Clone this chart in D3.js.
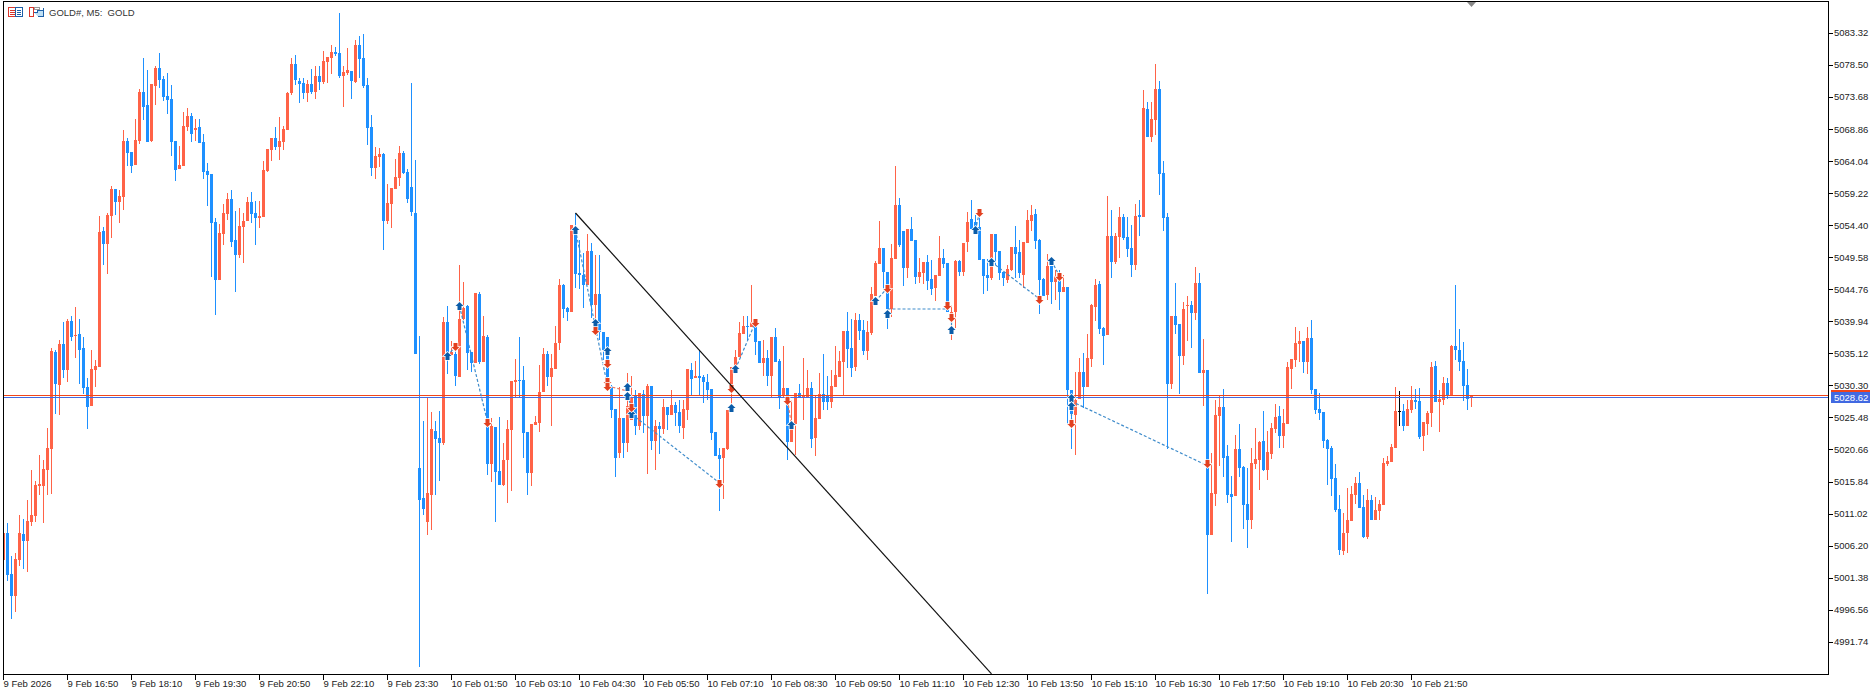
<!DOCTYPE html>
<html>
<head>
<meta charset="utf-8">
<title>GOLD#, M5</title>
<script src="https://cdn.jsdelivr.net/npm/d3@7"></script>
<style>
  html, body { margin: 0; padding: 0; background: #fff; overflow: hidden; }
  svg { display: block; }
  text { font-family: "Liberation Sans", Arial, sans-serif; font-size: 9.5px; fill: #222; }
</style>
</head>
<body>
<div id="chart"></div>
<script>
const opens = [
  5004.12,5008.18,5002.01,4998.70,5004.12,5008.03,5006.97,5009.83,5010.73,5015.24,
  5015.24,5017.65,5020.81,5035.40,5030.43,5036.60,5032.69,5040.06,5037.80,5038.10,
  5036.00,5030.13,5027.28,5032.69,5033.14,5053.59,5051.64,5055.84,5059.91,5057.95,
  5058.70,5067.12,5065.47,5063.52,5067.12,5074.50,5072.54,5067.12,5075.40,5078.10,
  5076.45,5073.89,5073.44,5067.12,5062.92,5063.33,5069.23,5070.89,5068.78,5069.23,
  5066.97,5062.61,5062.16,5054.95,5046.22,5053.14,5056.15,5058.40,5052.24,5049.98,
  5054.19,5055.10,5057.95,5056.30,5055.55,5055.70,5062.61,5065.77,5067.58,5066.22,
  5066.97,5068.78,5074.34,5078.71,5076.15,5075.85,5074.34,5075.70,5074.50,5076.90,
  5076.00,5079.01,5079.61,5080.51,5080.36,5076.90,5077.35,5077.65,5076.00,5081.56,
  5079.61,5075.55,5069.23,5063.07,5064.72,5065.17,5055.10,5057.65,5059.91,5061.56,
  5065.32,5062.46,5060.21,5056.30,5017.95,5013.44,5009.83,5013.89,5023.52,5022.46,
  5021.71,5039.91,5034.94,5035.09,5031.64,5040.36,5042.31,5035.40,5033.74,5044.12,
  5033.89,5037.65,5018.55,5024.12,5017.50,5015.39,5019.16,5023.67,5030.88,5031.19,
  5031.19,5023.37,5017.20,5024.42,5024.72,5029.38,5035.09,5031.64,5032.84,5036.75,
  5045.47,5042.01,5041.41,5053.74,5047.28,5046.98,5045.47,5050.58,5042.46,5044.12,
  5038.40,5037.65,5030.28,5026.83,5020.21,5025.47,5021.71,5025.17,5028.93,5024.27,
  5029.08,5025.77,5030.28,5022.01,5024.27,5023.82,5027.13,5025.92,5027.43,5026.37,
  5023.97,5026.67,5032.69,5031.49,5031.79,5031.64,5030.88,5029.83,5023.37,5019.91,
  5019.46,5020.81,5030.43,5032.39,5034.64,5038.10,5039.31,5039.16,5039.46,5037.05,
  5033.74,5034.49,5031.79,5037.65,5034.04,5028.78,5029.98,5021.86,5024.57,5029.23,
  5028.48,5028.63,5029.98,5022.46,5025.32,5029.08,5028.78,5027.88,5030.13,5031.64,
  5033.89,5038.55,5036.00,5033.14,5040.21,5038.70,5035.55,5038.25,5043.82,5048.63,
  5051.03,5047.43,5041.86,5049.38,5057.50,5053.59,5048.03,5053.89,5052.24,5046.68,
  5047.28,5048.93,5046.37,5045.02,5046.83,5049.53,5048.78,5040.81,5041.41,5049.08,
  5047.43,5051.94,5055.40,5054.95,5054.19,5049.38,5046.98,5046.53,5053.14,5050.58,
  5047.43,5046.22,5047.73,5051.18,5050.43,5046.98,5051.79,5055.10,5056.15,5052.24,
  5046.37,5043.97,5048.33,5045.92,5046.37,5044.42,5045.17,5029.68,5025.92,5028.33,
  5032.39,5030.13,5034.34,5042.16,5045.62,5039.01,5037.95,5052.84,5048.93,5052.69,
  5055.70,5052.69,5051.03,5048.48,5056.00,5055.70,5071.94,5067.73,5070.28,5074.95,
  5062.31,5055.70,5030.58,5040.81,5039.61,5034.79,5042.31,5042.46,5041.26,5045.77,
  5032.24,5032.69,5007.88,5014.04,5025.77,5027.13,5019.76,5014.04,5013.74,5020.81,
  5018.10,5012.54,5010.13,5018.55,5019.16,5022.01,5017.65,5020.06,5023.82,5025.77,
  5022.77,5024.57,5032.84,5034.19,5036.60,5037.05,5033.89,5037.50,5029.83,5026.83,
  5026.37,5022.16,5020.96,5016.45,5011.79,5005.47,5008.18,5009.98,5013.89,5015.70,
  5012.09,5007.58,5013.14,5010.13,5011.49,5012.39,5018.55,5018.85,5020.96,5026.52,
  5026.52,5024.27,5026.67,5028.18,5028.03,5022.77,5024.57,5026.22,5033.29,5027.88,
  5028.18,5030.73,5028.78,5036.30,5035.70,5034.04,5030.43,5028.63
];
const highs = [
  5008.18,5009.68,5004.72,5005.17,5010.88,5010.28,5013.14,5017.65,5016.00,5019.91,
  5019.16,5023.97,5036.00,5035.70,5037.20,5039.91,5040.36,5040.81,5042.16,5040.36,
  5037.65,5031.49,5035.70,5034.19,5055.84,5054.19,5056.30,5060.36,5059.91,5059.76,
  5068.78,5067.58,5065.47,5070.43,5074.95,5079.61,5077.80,5075.70,5078.40,5080.36,
  5076.90,5077.35,5075.55,5067.12,5066.37,5071.49,5072.09,5071.34,5070.43,5070.43,
  5068.18,5063.82,5062.16,5055.55,5054.64,5057.65,5059.31,5059.76,5056.60,5057.05,
  5056.30,5058.70,5059.46,5058.10,5058.10,5064.12,5065.92,5067.58,5069.23,5070.74,
  5069.38,5074.50,5079.61,5080.06,5076.60,5076.60,5076.30,5077.95,5078.40,5078.40,
  5080.66,5079.76,5081.56,5081.26,5086.37,5078.40,5081.11,5077.65,5082.31,5082.92,
  5083.22,5076.60,5071.04,5066.22,5066.07,5065.32,5060.66,5060.06,5064.42,5066.37,
  5065.62,5062.92,5075.85,5064.27,5037.80,5025.02,5028.48,5026.37,5025.02,5026.52,
  5040.66,5042.31,5037.05,5036.45,5048.48,5045.92,5042.46,5035.40,5044.27,5044.42,
  5040.81,5037.95,5025.47,5024.12,5025.62,5021.71,5025.17,5031.04,5034.34,5037.65,
  5033.29,5023.37,5024.57,5025.77,5033.44,5036.00,5035.55,5035.09,5039.31,5046.37,
  5045.62,5042.16,5054.49,5056.30,5052.24,5050.28,5053.14,5051.79,5049.98,5049.98,
  5038.40,5037.65,5030.43,5026.83,5030.13,5025.47,5032.24,5031.79,5029.68,5029.23,
  5029.68,5030.58,5030.28,5025.17,5024.87,5028.33,5027.13,5029.68,5027.88,5028.18,
  5028.18,5032.84,5033.74,5034.04,5035.70,5031.94,5032.09,5029.83,5023.37,5020.96,
  5020.96,5026.67,5033.14,5035.70,5039.91,5040.81,5040.81,5045.47,5039.46,5037.05,
  5037.20,5035.70,5037.65,5039.01,5034.34,5036.30,5029.98,5028.18,5029.23,5030.58,
  5034.49,5032.69,5030.88,5028.78,5032.24,5035.09,5031.79,5032.69,5036.30,5035.55,
  5038.55,5041.41,5040.36,5041.26,5041.11,5040.21,5040.06,5045.17,5049.08,5055.10,
  5051.03,5047.43,5051.64,5063.33,5058.55,5053.59,5053.89,5055.70,5052.24,5049.53,
  5048.93,5049.98,5049.23,5046.98,5052.84,5050.88,5048.78,5042.46,5049.23,5049.23,
  5051.79,5056.45,5058.25,5056.00,5056.00,5049.38,5049.38,5053.14,5053.14,5050.58,
  5047.43,5048.48,5051.18,5054.34,5052.24,5051.94,5056.75,5057.50,5056.90,5052.39,
  5046.53,5050.13,5048.33,5047.73,5047.73,5046.98,5045.17,5029.68,5032.39,5034.49,
  5035.25,5038.10,5042.61,5046.37,5046.07,5039.16,5058.85,5056.75,5053.29,5057.20,
  5056.15,5055.70,5054.49,5057.65,5058.25,5074.80,5072.99,5072.99,5078.71,5076.15,
  5064.12,5056.30,5040.81,5045.77,5039.61,5042.91,5043.82,5043.07,5048.18,5047.28,
  5037.35,5032.69,5020.21,5028.18,5028.93,5029.83,5021.41,5016.75,5022.92,5024.57,
  5018.25,5017.95,5020.96,5023.97,5022.01,5026.52,5023.52,5024.72,5027.58,5027.28,
  5026.83,5033.89,5034.34,5039.16,5038.55,5037.05,5039.16,5040.21,5029.83,5029.23,
  5026.37,5022.31,5021.26,5018.55,5013.89,5011.19,5014.94,5015.24,5016.60,5017.35,
  5013.89,5014.79,5013.89,5013.59,5013.14,5019.46,5019.76,5021.56,5030.13,5029.53,
  5027.58,5028.18,5030.28,5029.83,5029.98,5024.87,5026.52,5033.89,5034.04,5029.68,
  5031.64,5031.49,5036.45,5045.47,5038.85,5036.90,5032.84,5028.93
];
const lows = [
  5004.12,5000.96,4995.24,4996.30,5003.21,5002.76,5002.31,5009.23,5009.83,5013.89,
  5009.68,5013.89,5014.04,5026.07,5025.92,5031.49,5030.88,5037.05,5034.49,5030.58,
  5029.08,5023.82,5027.28,5030.13,5033.14,5048.48,5047.13,5052.54,5056.00,5054.79,
  5056.75,5063.33,5062.31,5063.52,5066.67,5070.28,5066.97,5066.97,5072.54,5075.10,
  5073.14,5071.19,5064.87,5061.11,5062.92,5063.33,5068.63,5066.97,5067.12,5066.82,
  5061.41,5057.35,5046.68,5040.96,5046.22,5051.49,5055.25,5051.18,5044.42,5049.53,
  5048.78,5055.10,5054.79,5051.49,5054.04,5055.70,5062.46,5064.12,5065.77,5064.27,
  5065.77,5068.78,5074.04,5075.55,5072.84,5073.44,5072.99,5074.19,5073.44,5074.80,
  5075.70,5075.85,5077.20,5079.91,5076.60,5072.24,5077.05,5073.44,5075.85,5076.60,
  5075.10,5066.52,5061.86,5061.41,5063.22,5050.73,5054.64,5054.04,5059.91,5060.36,
  5062.16,5057.80,5055.84,5035.09,4988.02,5010.88,5007.88,5008.63,5013.89,5016.00,
  5021.41,5032.09,5034.94,5030.28,5031.64,5040.21,5032.69,5032.39,5033.74,5033.59,
  5033.89,5016.90,5015.85,5009.83,5015.39,5015.24,5012.69,5014.49,5028.63,5028.63,
  5019.46,5013.89,5015.24,5024.42,5023.37,5029.38,5030.28,5024.27,5032.84,5035.70,
  5040.51,5040.06,5041.41,5045.02,5044.87,5042.01,5045.47,5040.51,5037.95,5037.20,
  5034.19,5029.68,5025.47,5016.60,5019.46,5019.46,5020.36,5025.17,5022.92,5023.67,
  5023.22,5017.05,5020.66,5017.65,5020.06,5023.07,5023.67,5025.92,5024.27,5023.22,
  5022.31,5025.17,5028.93,5031.49,5028.93,5027.73,5028.18,5022.16,5019.76,5011.49,
  5013.29,5020.66,5026.67,5032.39,5034.64,5038.10,5037.20,5039.16,5034.94,5033.74,
  5031.79,5030.28,5028.48,5033.89,5026.83,5028.63,5019.16,5021.86,5019.91,5028.48,
  5025.17,5028.48,5020.96,5019.76,5025.32,5026.67,5026.67,5026.97,5030.13,5031.64,
  5028.78,5032.99,5031.64,5032.54,5037.20,5034.94,5034.19,5037.95,5043.82,5048.63,
  5044.72,5038.85,5040.66,5049.38,5051.18,5045.32,5046.53,5052.09,5045.62,5045.77,
  5045.62,5044.72,5043.97,5043.07,5046.83,5048.03,5041.41,5037.20,5039.01,5046.83,
  5046.83,5050.43,5053.89,5053.44,5049.23,5044.12,5044.57,5046.22,5048.48,5046.22,
  5045.32,5045.77,5047.58,5046.53,5046.53,5045.02,5051.79,5053.59,5050.88,5041.11,
  5043.82,5043.22,5042.61,5043.22,5041.71,5044.42,5024.42,5020.81,5019.91,5028.33,
  5026.97,5030.13,5033.14,5040.06,5038.10,5033.44,5037.95,5046.53,5048.63,5049.53,
  5052.24,5049.68,5046.68,5047.73,5052.84,5055.70,5067.73,5066.97,5068.03,5059.00,
  5053.59,5020.81,5029.83,5038.10,5029.08,5033.44,5037.05,5036.00,5040.21,5032.24,
  5027.28,4999.00,5007.88,5012.24,5018.25,5016.60,5012.69,5006.82,5013.74,5016.60,
  5008.78,5005.92,5008.78,5017.80,5014.64,5017.50,5016.15,5019.31,5023.22,5020.96,
  5020.96,5024.57,5029.83,5033.14,5033.89,5032.24,5032.09,5029.08,5026.07,5025.17,
  5020.96,5015.39,5013.74,5011.34,5004.87,5004.87,5005.17,5009.98,5012.54,5011.94,
  5007.43,5007.28,5010.13,5010.13,5010.13,5012.39,5018.25,5018.85,5020.96,5024.27,
  5023.52,5024.27,5026.22,5026.83,5022.31,5020.51,5022.92,5024.12,5027.88,5023.37,
  5027.43,5028.33,5028.78,5034.19,5032.54,5028.03,5026.67,5027.13
];
const closes = [
  5008.18,5001.86,4998.70,5004.27,5008.18,5006.97,5009.98,5010.88,5015.39,5015.54,
  5017.80,5020.96,5035.55,5030.58,5036.60,5032.69,5040.06,5037.65,5037.95,5035.70,
  5029.98,5027.13,5032.84,5033.29,5053.44,5051.64,5056.00,5059.91,5057.95,5058.85,
  5067.12,5065.32,5063.33,5067.28,5074.50,5072.24,5066.97,5075.70,5078.10,5076.30,
  5073.74,5073.29,5066.97,5062.77,5063.52,5069.38,5070.89,5068.18,5069.08,5066.82,
  5062.46,5062.01,5054.79,5046.22,5053.29,5056.30,5058.40,5051.94,5049.98,5054.34,
  5055.10,5057.95,5056.15,5055.55,5055.84,5062.77,5065.92,5067.58,5066.22,5067.12,
  5068.93,5074.34,5078.71,5076.30,5075.70,5074.34,5075.70,5074.50,5076.90,5076.00,
  5079.16,5079.76,5080.51,5080.21,5076.90,5077.50,5077.80,5076.15,5081.56,5079.46,
  5075.40,5069.08,5063.07,5064.87,5065.17,5055.10,5057.80,5060.06,5061.71,5065.32,
  5062.31,5058.40,5056.45,5035.09,5013.14,5011.79,5014.19,5023.82,5022.31,5021.71,
  5039.91,5034.79,5035.40,5031.79,5040.36,5042.01,5035.25,5033.74,5044.27,5033.89,
  5037.80,5018.55,5024.27,5017.35,5015.39,5019.16,5023.82,5031.04,5031.19,5031.04,
  5023.22,5017.20,5024.57,5024.87,5029.38,5035.09,5031.64,5032.99,5036.75,5045.47,
  5041.86,5041.41,5054.49,5047.13,5046.98,5045.47,5050.58,5042.46,5044.12,5038.40,
  5035.70,5031.64,5026.67,5019.46,5025.47,5021.71,5027.28,5028.48,5024.27,5029.23,
  5025.77,5030.28,5022.01,5024.27,5023.82,5027.13,5025.92,5027.43,5026.22,5024.27,
  5026.83,5032.84,5031.34,5031.79,5031.49,5030.88,5029.68,5023.22,5019.76,5019.31,
  5020.96,5026.67,5033.14,5034.64,5038.25,5039.31,5039.16,5039.91,5036.90,5033.74,
  5034.49,5031.79,5037.65,5033.89,5028.48,5029.98,5021.86,5023.82,5029.23,5028.48,
  5028.78,5029.98,5022.31,5025.47,5029.08,5027.88,5027.88,5030.28,5031.94,5034.04,
  5038.55,5035.85,5032.99,5040.21,5038.55,5035.55,5038.40,5044.12,5048.78,5051.03,
  5047.43,5041.86,5049.53,5057.50,5051.49,5048.03,5053.89,5052.09,5046.68,5047.43,
  5048.93,5046.07,5044.87,5046.98,5049.53,5048.63,5041.41,5041.41,5049.08,5047.43,
  5051.79,5054.95,5053.89,5053.74,5049.23,5046.83,5046.53,5053.14,5050.43,5047.28,
  5046.53,5047.88,5051.18,5050.13,5047.28,5051.94,5055.25,5056.00,5052.09,5046.22,
  5043.82,5048.33,5045.92,5046.83,5044.42,5045.17,5029.68,5026.07,5028.18,5032.39,
  5030.13,5034.49,5042.46,5045.47,5038.85,5037.80,5052.84,5048.93,5052.84,5055.70,
  5052.54,5050.88,5048.48,5055.84,5055.70,5072.09,5067.73,5070.43,5074.95,5062.16,
  5055.55,5030.58,5040.81,5039.46,5034.79,5041.86,5042.46,5041.26,5045.77,5032.24,
  5032.69,5007.88,5014.19,5025.92,5027.13,5019.46,5013.89,5013.59,5020.81,5017.95,
  5012.39,5010.13,5018.70,5019.31,5021.86,5017.65,5020.36,5023.97,5025.62,5022.77,
  5024.72,5033.14,5034.34,5036.75,5037.05,5033.89,5037.50,5029.68,5026.67,5026.22,
  5022.01,5020.81,5016.30,5011.64,5005.62,5008.18,5010.13,5014.04,5015.70,5011.94,
  5007.58,5013.14,5010.13,5011.64,5012.54,5018.70,5019.01,5021.11,5026.52,5026.52,
  5024.27,5026.83,5028.18,5027.88,5022.61,5024.87,5026.22,5033.14,5027.88,5028.33,
  5030.73,5028.93,5036.30,5035.70,5033.89,5030.28,5028.33,5028.78
];

const priceTicks = [5083.32,5078.50,5073.68,5068.86,5064.04,5059.22,5054.40,5049.58,5044.76,5039.94,
  5035.12,5030.30,5025.48,5020.66,5015.84,5011.02,5006.20,5001.38,4996.56,4991.74];
const timeLabels = ["9 Feb 2026","9 Feb 16:50","9 Feb 18:10","9 Feb 19:30","9 Feb 20:50","9 Feb 22:10","9 Feb 23:30",
  "10 Feb 01:50","10 Feb 03:10","10 Feb 04:30","10 Feb 05:50","10 Feb 07:10","10 Feb 08:30","10 Feb 09:50",
  "10 Feb 11:10","10 Feb 12:30","10 Feb 13:50","10 Feb 15:10","10 Feb 16:30","10 Feb 17:50","10 Feb 19:10",
  "10 Feb 20:30","10 Feb 21:50"];
const barsPerLabel = 16;

const bidPrice = 5028.62;
const askPrice = 5028.92;

// trade arrows: [bar, price]
const buyMarks = [[111,5034.79],[114,5042.31],[143,5053.74],[148,5039.76],[151,5035.55],[156,5030.13],[156,5028.78],
  [157,5026.07],[182,5026.97],[183,5032.84],[197,5024.42],[218,5043.07],[221,5041.11],[237,5038.70],[243,5053.74],
  [247,5048.93],[262,5049.08],[267,5028.48],[267,5027.28]];
const sellMarks = [[113,5036.30],[121,5024.87],[148,5038.70],[151,5033.74],[151,5031.04],[151,5030.28],[157,5027.13],
  [179,5015.70],[182,5029.98],[188,5039.91],[196,5028.18],[221,5045.02],[236,5042.46],[237,5040.66],[244,5056.45],
  [259,5043.37],[264,5046.83],[267,5024.72],[301,5018.70]];
// dashed links between trades: [bar1, price1, bar2, price2]
const blueLinks = [[111,5034.79,113,5036.30],[114,5042.31,121,5024.87],[143,5053.74,151,5030.28],[157,5026.07,179,5015.70],
  [183,5032.84,188,5039.91],[218,5043.07,221,5045.02],[221,5041.86,236,5041.86],[237,5040.66,237,5038.70],
  [243,5053.74,244,5056.45],[247,5048.93,259,5043.37],[262,5049.08,264,5046.83],[267,5028.48,267,5024.72],
  [267,5027.98,301,5018.30],[156,5028.78,157,5027.13]];
const redLinks = [[151,5030.28,156,5029.53],[196,5028.18,197,5024.42]];
// drawn trendline: [bar, price] start and end
const trendLine = [[143,5056.30],[247,4987.00]];

const W = 1876, H = 694;
const plot = { left: 3, right: 1828, top: 1, bottom: 674 };

const x = d3.scaleLinear().domain([0, 1]).range([3.5, 7.5]);
const y = d3.scaleLinear().domain([4991.74, 5083.32]).range([642.3, 33.3]);

const UP = "#FF6347", DOWN = "#1E90FF";

const svg = d3.select("#chart").append("svg").attr("width", W).attr("height", H);
svg.append("rect").attr("width", W).attr("height", H).attr("fill", "#fff");

svg.append("defs").append("clipPath").attr("id", "plot-clip").append("rect")
  .attr("x", plot.left).attr("y", plot.top)
  .attr("width", plot.right - plot.left).attr("height", plot.bottom - plot.top);

const bars = opens.map((o, i) => ({ i, o, h: highs[i], l: lows[i], c: closes[i] }));
const barColor = d => d.c > d.o ? UP : d.c < d.o ? DOWN : "#000";

const candles = svg.append("g").attr("shape-rendering", "crispEdges").attr("clip-path", "url(#plot-clip)");

// wicks first
candles.selectAll(".wick").data(bars).enter().append("rect")
  .attr("class", "wick")
  .attr("x", d => x(d.i) - 0.5)
  .attr("y", d => Math.round(y(d.h)))
  .attr("width", 1)
  .attr("height", d => Math.max(1, Math.round(y(d.l)) - Math.round(y(d.h))))
  .attr("fill", barColor);

candles.selectAll(".body").data(bars).enter().append("rect")
  .attr("class", "body")
  .attr("x", d => x(d.i) - 1.5)
  .attr("y", d => Math.round(y(Math.max(d.o, d.c))))
  .attr("width", 3)
  .attr("height", d => Math.max(1, Math.round(y(Math.min(d.o, d.c))) - Math.round(y(Math.max(d.o, d.c)))))
  .attr("fill", barColor);

// bid / ask lines
const priceLines = svg.append("g").attr("shape-rendering", "crispEdges");
[[askPrice, "#F0441A"], [bidPrice, "#4169E1"]].forEach(([p, col]) => {
  priceLines.append("rect")
    .attr("x", plot.left + 1).attr("y", Math.round(y(p)))
    .attr("width", plot.right - plot.left - 1).attr("height", 1)
    .attr("fill", col);
});

const links = svg.append("g").attr("fill", "none").attr("stroke-width", 1.2).attr("stroke-dasharray", "3 2");
links.selectAll(".blue").data(blueLinks).enter().append("line")
  .attr("x1", d => x(d[0])).attr("y1", d => y(d[1]))
  .attr("x2", d => x(d[2])).attr("y2", d => y(d[3]))
  .attr("stroke", "#3F8CCB");
links.selectAll(".red").data(redLinks).enter().append("line")
  .attr("x1", d => x(d[0])).attr("y1", d => y(d[1]))
  .attr("x2", d => x(d[2])).attr("y2", d => y(d[3]))
  .attr("stroke", "#EE7A62");

const arrowUp = "M0,-4.5L4,-0.5L2,-0.5L2,3.5L-2,3.5L-2,-0.5L-4,-0.5Z";
const arrowDown = "M0,4.5L4,0.5L2,0.5L2,-3.5L-2,-3.5L-2,0.5L-4,0.5Z";
const marks = svg.append("g").attr("stroke", "#fff").attr("stroke-width", 1.5).attr("paint-order", "stroke");
marks.selectAll(".buy").data(buyMarks).enter().append("path")
  .attr("d", arrowUp).attr("fill", "#0B5CA8")
  .attr("transform", d => `translate(${x(d[0])},${Math.round(y(d[1])) + 0.5})`);
marks.selectAll(".sell").data(sellMarks).enter().append("path")
  .attr("d", arrowDown).attr("fill", "#E2401F")
  .attr("transform", d => `translate(${x(d[0])},${Math.round(y(d[1])) + 0.5})`);

svg.append("line")
  .attr("clip-path", "url(#plot-clip)")
  .attr("x1", x(trendLine[0][0])).attr("y1", y(trendLine[0][1]))
  .attr("x2", x(trendLine[1][0])).attr("y2", y(trendLine[1][1]))
  .attr("stroke", "#111").attr("stroke-width", 1.2);

// frame + axes
svg.append("rect")
  .attr("x", plot.left + 0.5).attr("y", plot.top + 0.5)
  .attr("width", plot.right - plot.left).attr("height", plot.bottom - plot.top)
  .attr("fill", "none").attr("stroke", "#000").attr("shape-rendering", "crispEdges");

const yAxis = d3.axisRight(y).tickValues(priceTicks).tickFormat(d3.format(".2f"))
  .tickSize(4).tickPadding(1).offset(0);
const yG = svg.append("g").attr("transform", `translate(${plot.right + 1},0)`)
  .attr("shape-rendering", "crispEdges").call(yAxis);
yG.select(".domain").remove();

const xAxis = d3.axisBottom(x).tickValues(timeLabels.map((d, k) => k * barsPerLabel))
  .tickFormat((d, k) => timeLabels[k]).tickSize(5).tickPadding(1).offset(0);
const xG = svg.append("g").attr("transform", `translate(0,${plot.bottom + 0.5})`)
  .attr("shape-rendering", "crispEdges").call(xAxis);
xG.select(".domain").remove();
xG.selectAll("text").attr("text-anchor", "start").attr("x", d => 0);

svg.selectAll(".tick text").style("font-family", '"Liberation Sans", Arial, sans-serif').style("font-size", "9.5px").attr("fill", "#111");
svg.selectAll(".tick line").attr("stroke", "#000");

// price tag
const tagY = Math.round(y(bidPrice));
const tags = svg.append("g").attr("shape-rendering", "crispEdges");
tags.append("rect").attr("x", 1831).attr("y", tagY - 7).attr("width", 39).attr("height", 2).attr("fill", "#F0441A");
tags.append("rect").attr("x", 1831).attr("y", tagY - 5).attr("width", 39).attr("height", 11).attr("fill", "#4169E1");
svg.append("text").attr("x", 1834).attr("y", tagY + 3.5).style("fill", "#fff").text(d3.format(".2f")(bidPrice));

// shift marker on top edge
svg.append("path").attr("d", `M${x(367) - 4.5},2L${x(367) + 4.5},2L${x(367)},7Z`).attr("fill", "#888");

// header: toolbar icons and symbol text
const head = svg.append("g").attr("shape-rendering", "crispEdges");
head.append("rect").attr("x", 8.5).attr("y", 7.5).attr("width", 7).attr("height", 9).attr("fill", "#fff").attr("stroke", "#D9362B");
head.append("rect").attr("x", 15.5).attr("y", 7.5).attr("width", 7).attr("height", 9).attr("fill", "#fff").attr("stroke", "#1C5FA8");
[10, 12, 14].forEach(v => {
  head.append("rect").attr("x", 10).attr("y", v).attr("width", 5).attr("height", 1).attr("fill", "#D9362B");
  head.append("rect").attr("x", 17).attr("y", v).attr("width", 4).attr("height", 1).attr("fill", "#1C5FA8");
});
head.append("path").attr("d", "M29.5,7.5H33.5V16.5H29.5Z").attr("fill", "#fff").attr("stroke", "#D9362B");
head.append("path").attr("d", "M33.5,12.5H37.5V10.5H43.5V7.5V16.5H37.5").attr("fill", "#BFE0F5").attr("stroke", "#1C5FA8");
head.append("rect").attr("x", 34.5).attr("y", 7.5).attr("width", 5).attr("height", 2).attr("fill", "#fff").attr("stroke", "#999");
svg.append("text").attr("x", 49).attr("y", 16).style("white-space", "pre").style("fill", "#333").text("GOLD#, M5:  GOLD");
</script>
</body>
</html>
